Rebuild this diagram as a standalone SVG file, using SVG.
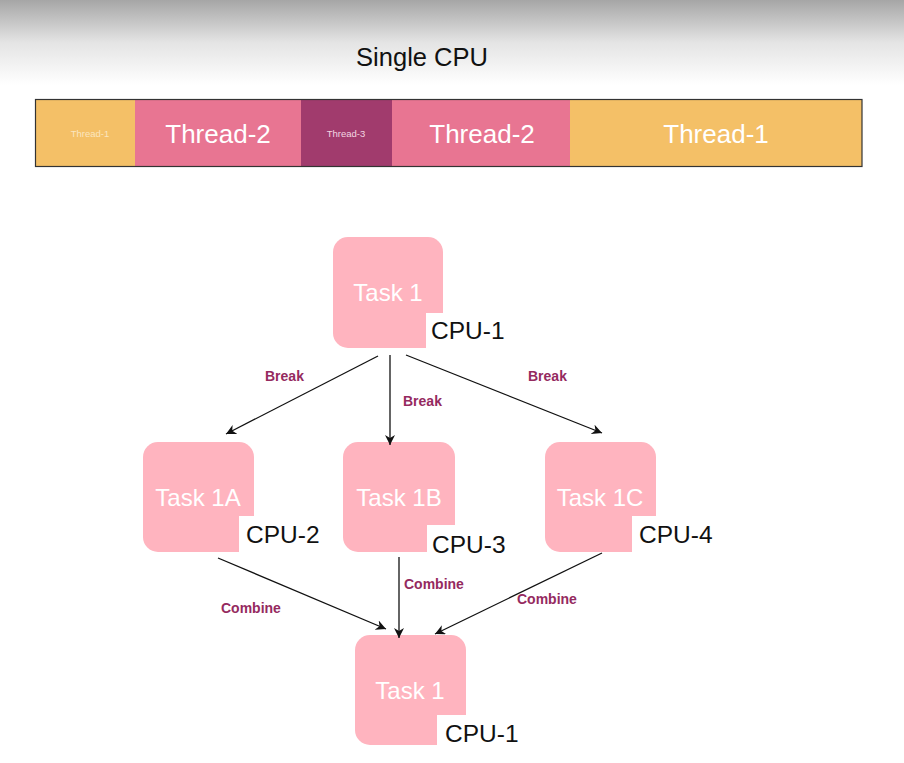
<svg xmlns="http://www.w3.org/2000/svg" width="904" height="763" viewBox="0 0 904 763">
<defs>
<linearGradient id="bg" x1="0" y1="0" x2="0" y2="1">
<stop offset="0" stop-color="#a6a6a6"/>
<stop offset="0.5" stop-color="#e4e4e4"/>
<stop offset="1" stop-color="#ffffff"/>
</linearGradient>
<marker id="arr" viewBox="0 0 10 10" refX="10" refY="5" markerWidth="10" markerHeight="10" markerUnits="userSpaceOnUse" orient="auto">
<path d="M0,0 L10,5 L0,10 L3,5 Z" fill="#111"/>
</marker>
<style>
.seg-text{font-family:"Liberation Sans",Arial,sans-serif;text-anchor:middle;}
.node rect.box{fill:#ffb4bf;}
.node rect.lbl{fill:#ffffff;}
.task{font-family:"Liberation Sans",Arial,sans-serif;font-size:24px;fill:#ffffff;text-anchor:middle;}
.cpu{font-family:"Liberation Sans",Arial,sans-serif;font-size:24.5px;fill:#111111;}
.edge{stroke:#111;stroke-width:1.3;fill:none;marker-end:url(#arr);}
.elbl{font-family:"Liberation Sans",Arial,sans-serif;font-size:14px;font-weight:bold;fill:#952a5f;}
</style>
</defs>
<rect x="0" y="0" width="904" height="763" fill="#ffffff"/>
<rect x="0" y="0" width="904" height="85" fill="url(#bg)"/>
<text x="422" y="66" font-family="'Liberation Sans',Arial,sans-serif" font-size="25.5" fill="#111" text-anchor="middle">Single CPU</text>

<g id="timeline">
<rect x="35.5" y="99.5" width="100" height="67" fill="#f4c067"/>
<rect x="135" y="99.5" width="166" height="67" fill="#e87592"/>
<rect x="301" y="99.5" width="91" height="67" fill="#a13b6d"/>
<rect x="392" y="99.5" width="178" height="67" fill="#e87592"/>
<rect x="570" y="99.5" width="292" height="67" fill="#f4c067"/>
<rect x="35.5" y="99.5" width="826.5" height="67" fill="none" stroke="#333" stroke-width="1.2"/>
<text class="seg-text" x="90" y="137" font-size="9.5" fill="#fbe6bf">Thread-1</text>
<text class="seg-text" x="218" y="143" font-size="26" fill="#ffffff">Thread-2</text>
<text class="seg-text" x="346" y="137" font-size="9.5" fill="#f3d6e2">Thread-3</text>
<text class="seg-text" x="482" y="143" font-size="26" fill="#ffffff">Thread-2</text>
<text class="seg-text" x="716" y="143" font-size="26" fill="#ffffff">Thread-1</text>
</g>

<g id="node-task1">
<g class="node">
<rect class="box" x="333" y="237" width="110" height="111" rx="15"/>
<rect class="lbl" x="426" y="313" width="84" height="40"/>
<text class="task" x="388" y="301">Task 1</text>
<text class="cpu" x="431" y="339">CPU-1</text>
</g>
</g>

<g id="node-task1a">
<g class="node">
<rect class="box" x="143" y="442" width="111" height="110" rx="15"/>
<rect class="lbl" x="239" y="516" width="88" height="40"/>
<text class="task" x="198" y="506">Task 1A</text>
<text class="cpu" x="246" y="543">CPU-2</text>
</g>
</g>

<g id="node-task1b">
<g class="node">
<rect class="box" x="343" y="442" width="112" height="110" rx="15"/>
<rect class="lbl" x="427" y="525" width="88" height="34"/>
<text class="task" x="399" y="506">Task 1B</text>
<text class="cpu" x="432" y="553">CPU-3</text>
</g>
</g>

<g id="node-task1c">
<g class="node">
<rect class="box" x="545" y="442" width="111" height="110" rx="15"/>
<rect class="lbl" x="632" y="516" width="88" height="40"/>
<text class="task" x="600" y="506">Task 1C</text>
<text class="cpu" x="639" y="543">CPU-4</text>
</g>
</g>

<g id="node-task1-final">
<g class="node">
<rect class="box" x="355" y="635" width="111" height="110" rx="15"/>
<rect class="lbl" x="437" y="715" width="88" height="40"/>
<text class="task" x="410" y="699">Task 1</text>
<text class="cpu" x="445" y="742">CPU-1</text>
</g>
</g>

<g id="connectors">
<line class="edge" x1="378" y1="356" x2="226" y2="434"/>
<line class="edge" x1="390" y1="355" x2="390" y2="445"/>
<line class="edge" x1="406" y1="355" x2="602" y2="433"/>
<line class="edge" x1="218" y1="558" x2="386" y2="629"/>
<line class="edge" x1="399" y1="557" x2="399" y2="638"/>
<line class="edge" x1="602" y1="553" x2="435" y2="634"/>
<text class="elbl" x="265" y="381">Break</text>
<text class="elbl" x="403" y="406">Break</text>
<text class="elbl" x="528" y="381">Break</text>
<text class="elbl" x="221" y="613">Combine</text>
<text class="elbl" x="404" y="589">Combine</text>
<text class="elbl" x="517" y="604">Combine</text>
</g>
</svg>
